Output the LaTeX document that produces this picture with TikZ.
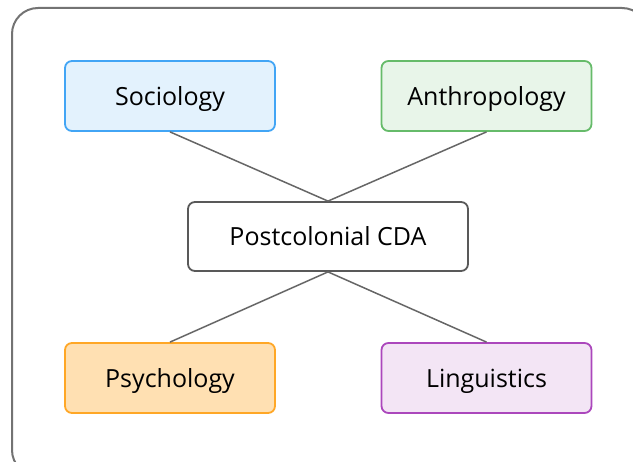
\documentclass[tikz,border=0pt]{standalone}
\usepackage{fontspec}
\setmainfont{Open Sans}
\begin{document}
\begin{tikzpicture}[x=1pt,y=-1pt,
  box/.style={draw, rounded corners=7pt, line width=1.8pt, minimum width=210pt, minimum height=70pt, inner sep=0pt, text height=19pt, text depth=0pt, font=\fontsize{25}{30}\selectfont, text=black},
  link/.style={draw=black!60, line width=1.5pt}]
\useasboundingbox (0,0) rectangle (633,462);
\clip (0,0) rectangle (633,462);
\draw[black!55, line width=2pt, rounded corners=26pt] (12,8) rectangle (648,476);
\node[box, draw={rgb,255:red,66;green,165;blue,245}, fill={rgb,255:red,227;green,242;blue,253}] (soc) at (170,96) {Sociology};
\node[box, draw={rgb,255:red,102;green,187;blue,106}, fill={rgb,255:red,232;green,245;blue,233}] (ant) at (486.5,96) {Anthropology};
\node[box, draw=black!65, fill=white, minimum width=280pt, minimum height=69pt] (cda) at (328,236.5) {Postcolonial CDA};
\node[box, draw={rgb,255:red,255;green,167;blue,38}, fill={rgb,255:red,255;green,224;blue,178}] (psy) at (170,378) {Psychology};
\node[box, draw={rgb,255:red,171;green,71;blue,188}, fill={rgb,255:red,243;green,229;blue,245}] (lin) at (486.5,378) {Linguistics};
\draw[link] (soc.south) -- (cda.north);
\draw[link] (ant.south) -- (cda.north);
\draw[link] (cda.south) -- (psy.north);
\draw[link] (cda.south) -- (lin.north);
\end{tikzpicture}
\end{document}
